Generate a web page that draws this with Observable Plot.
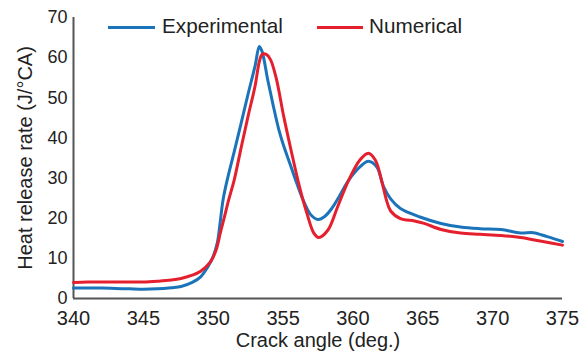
<!DOCTYPE html>
<html>
<head>
<meta charset="utf-8">
<script src="https://cdn.jsdelivr.net/npm/d3@7"></script>
<script src="https://cdn.jsdelivr.net/npm/@observablehq/plot@0.6"></script>
<style>
  html, body { margin: 0; padding: 0; background: #fff; }
  #wrap { position: relative; width: 587px; height: 362px; font-family: "Liberation Sans", Arial, sans-serif; }
  .leg { position: absolute; font-size: 20.7px; color: #222; line-height: 1; white-space: nowrap; }
  .sw { position: absolute; height: 3px; }
</style>
</head>
<body>
<div id="wrap"></div>
<script>
const seriesNames = ["Experimental", "Numerical"];
const seriesColors = ["#1b74b9", "#e5202e"];
const xTitle = "Crack angle (deg.)";
const yTitle = "Heat release rate (J/°CA)";

const expX = [340, 341, 342, 343, 344, 345, 346, 347, 347.7, 348.5, 349.1, 349.6, 350.0, 350.3, 350.5, 350.7, 351.0, 351.5, 352.0, 352.5, 353.0, 353.3, 353.5, 353.9, 354.3, 354.7, 355.0, 355.5, 356.0, 356.5, 357.0, 357.5, 358.0, 358.5, 359.0, 359.7, 360.5, 361.1, 361.7, 362.2, 362.7, 363.4, 364.8, 366.3, 367.7, 369.1, 370.6, 372.0, 372.9, 373.9, 375];
const expY = [2.6, 2.6, 2.6, 2.5, 2.4, 2.3, 2.4, 2.7, 3.0, 4.0, 5.4, 7.8, 10.5, 14, 19, 24.5, 29.5, 36.5, 43.7, 51, 58, 62.8, 61.5, 54.5, 48, 42, 38.5, 33.5, 28.5, 24, 20.8, 19.7, 20.5, 22.5, 25.3, 29.5, 32.8, 34.2, 32.8, 27.8, 24.8, 22.4, 20.3, 18.7, 17.8, 17.4, 17.2, 16.3, 16.4, 15.4, 14.2];

const numX = [340, 341, 342, 343, 344, 345, 346, 347, 347.7, 348.5, 349.1, 349.8, 350.2, 350.5, 350.8, 351.1, 351.5, 352.0, 352.5, 353.0, 353.3, 353.5, 353.8, 354.1, 354.5, 355.05, 355.6, 356.2, 356.7, 357.2, 357.55, 358.2, 358.9, 359.7, 360.5, 361.1, 361.6, 362.1, 362.4, 362.7, 363.4, 364.4, 365.1, 366.3, 367.7, 369.1, 370.6, 372, 373.4, 375];
const numY = [4.0, 4.1, 4.1, 4.1, 4.1, 4.1, 4.3, 4.6, 5.0, 5.8, 6.8, 9.1, 12, 16.2, 20.3, 24.5, 29.5, 37.6, 45.5, 53, 59, 60.8, 60.8, 59.5, 55, 45.3, 36.5, 27.5, 21.3, 16.3, 15.2, 17, 22.8, 29.5, 34.5, 36.2, 34.5, 28.7, 24.5, 21.8, 19.9, 19.3, 18.7, 17.2, 16.3, 16, 15.7, 15.2, 14.3, 13.3];

const xTicks = [340, 345, 350, 355, 360, 365, 370, 375];
const yTicks = [0, 10, 20, 30, 40, 50, 60, 70];

const expData = expX.map((x, i) => ({x, y: expY[i]}));
const numData = numX.map((x, i) => ({x, y: numY[i]}));

const chart = Plot.plot({
  width: 587,
  height: 362,
  marginLeft: 73,
  marginRight: 25,
  marginTop: 17,
  marginBottom: 64,
  style: { fontFamily: "'Liberation Sans', Arial, sans-serif", fontSize: "18px", color: "#222", background: "#fff" },
  x: { domain: [340, 375] },
  y: { domain: [0, 70] },
  marks: [
    Plot.axisX({ticks: xTicks, tickSize: 0, tickPadding: 12.5, label: null, fontSize: 20}),
    Plot.axisY({ticks: yTicks, tickSize: 0, tickPadding: 6, label: null, fontSize: 18}),
    Plot.text([xTitle], {frameAnchor: "bottom", dy: 48, fontSize: 20, fill: "#222"}),
    Plot.text([yTitle], {frameAnchor: "left", textAnchor: "middle", dx: -48, rotate: -90, fontSize: 20, fill: "#222"}),
    Plot.ruleY([0], {stroke: "#555", strokeWidth: 2}),
    Plot.ruleX([340], {y1: 0, y2: 70, stroke: "#555", strokeWidth: 2}),
    Plot.line(expData, {x: "x", y: "y", stroke: seriesColors[0], strokeWidth: 3, curve: "catmull-rom"}),
    Plot.line(numData, {x: "x", y: "y", stroke: seriesColors[1], strokeWidth: 3, curve: "catmull-rom"})
  ]
});

const wrap = document.getElementById("wrap");
wrap.appendChild(chart);

const legendPos = [{sx: 108, sw: 47, tx: 162}, {sx: 317, sw: 46, tx: 369}];
seriesNames.forEach((name, i) => {
  const sw = document.createElement("div");
  sw.className = "sw";
  sw.style.left = legendPos[i].sx + "px";
  sw.style.top = "25.5px";
  sw.style.width = legendPos[i].sw + "px";
  sw.style.background = seriesColors[i];
  wrap.appendChild(sw);
  const t = document.createElement("div");
  t.className = "leg";
  t.style.left = legendPos[i].tx + "px";
  t.style.top = "15.8px";
  t.textContent = name;
  wrap.appendChild(t);
});
</script>
</body>
</html>
